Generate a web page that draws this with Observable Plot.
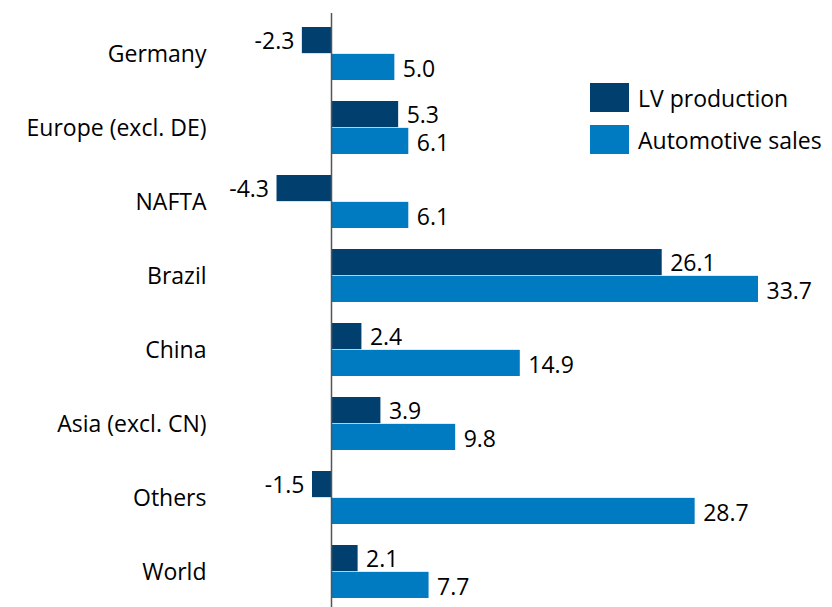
<!DOCTYPE html>
<html>
<head>
<meta charset="utf-8">
<script src="https://cdn.jsdelivr.net/npm/d3@7"></script>
<script src="https://cdn.jsdelivr.net/npm/@observablehq/plot@0.6"></script>
<style>
  html, body { margin: 0; padding: 0; background: #fff; }
  #wrap { position: relative; width: 832px; height: 607px; font-family: "Open Sans", sans-serif; }
  .legend { position: absolute; left: 590px; top: 83px; }
  .row { display: flex; align-items: center; height: 29px; margin-bottom: 13.3px; font-size: 23px; color: #000; white-space: nowrap; }
  .sw { width: 39px; height: 29px; margin-right: 9px; }
</style>
</head>
<body>
<div id="wrap"></div>
<script>
const categories = ["Germany", "Europe (excl. DE)", "NAFTA", "Brazil", "China", "Asia (excl. CN)", "Others", "World"];
const lvProduction = [-2.3, 5.3, -4.3, 26.1, 2.4, 3.9, -1.5, 2.1];
const autoSales = [5.0, 6.1, 6.1, 33.7, 14.9, 9.8, 28.7, 7.7];
const seriesNames = ["LV production", "Automotive sales"];
const colors = ["#003f6e", "#007bc1"];

const lv = categories.map((c, i) => ({category: c, value: lvProduction[i]}));
const sales = categories.map((c, i) => ({category: c, value: autoSales[i]}));
const fmt = d => d.value.toFixed(1);
const FS = 23;

function labels(data, dy) {
  return [
    Plot.text(data.filter(d => d.value >= 0), {x: "value", y: "category", text: fmt, dy, dx: 8, textAnchor: "start", fontSize: FS, fill: "#000"}),
    Plot.text(data.filter(d => d.value < 0), {x: "value", y: "category", text: fmt, dy, dx: -8, textAnchor: "end", fontSize: FS, fill: "#000"})
  ];
}

const chart = Plot.plot({
  width: 832,
  height: 607,
  marginLeft: 212,
  marginRight: 0,
  marginTop: 13,
  marginBottom: 0,
  style: {fontFamily: "Open Sans, sans-serif", fontSize: FS + "px", color: "#000", background: "#fff"},
  x: {domain: [-9.392, 39.54], axis: null},
  y: {domain: categories, range: [24, 601.7], paddingInner: 0.283, paddingOuter: 0, label: null},
  marks: [
    Plot.barX(lv, {x: "value", y: "category", fill: colors[0], insetBottom: 26.85}),
    Plot.barX(sales, {x: "value", y: "category", fill: colors[1], insetTop: 26.85}),
    ...labels(lv, -12),
    ...labels(sales, 15.5),
    Plot.ruleX([0], {stroke: "#555", strokeWidth: 1.5}),
    Plot.axisY({tickSize: 0, tickPadding: 6, dy: 1, label: null, fontSize: FS})
  ]
});
const wrap = document.getElementById("wrap");
wrap.appendChild(chart);

const legend = document.createElement("div");
legend.className = "legend";
seriesNames.forEach((name, i) => {
  const row = document.createElement("div");
  row.className = "row";
  const sw = document.createElement("div");
  sw.className = "sw";
  sw.style.background = colors[i];
  const t = document.createElement("span");
  t.textContent = name;
  row.appendChild(sw);
  row.appendChild(t);
  legend.appendChild(row);
});
wrap.appendChild(legend);
</script>
</body>
</html>
